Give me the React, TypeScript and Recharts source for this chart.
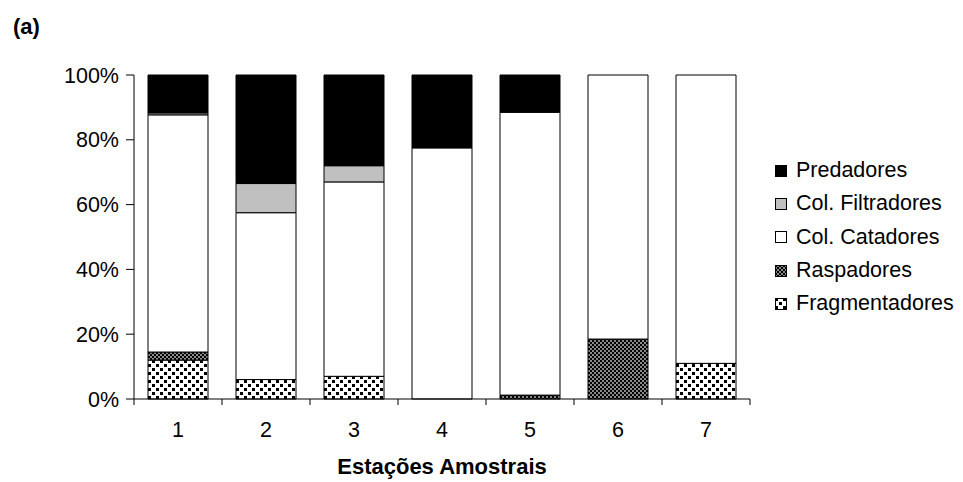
import { BarChart, Bar, XAxis, YAxis } from 'recharts';

const categories = ['1', '2', '3', '4', '5', '6', '7'];
const fragmentadores = [12, 6, 7, 0, 0, 0, 11];
const raspadores = [2.5, 0, 0, 0, 1.2, 18.5, 0];
const colCatadores = [73.2, 51.5, 60, 77.5, 87.3, 81.5, 89];
const colFiltradores = [0.6, 9, 5, 0, 0, 0, 0];
const predadores = [11.7, 33.5, 28, 22.5, 11.5, 0, 0];
const yTicks = [0, 20, 40, 60, 80, 100];

const data = categories.map((name, i) => ({
  name,
  frag: fragmentadores[i],
  rasp: raspadores[i],
  cat: colCatadores[i],
  filt: colFiltradores[i],
  pred: predadores[i],
}));

const font = '"Liberation Sans", Arial, sans-serif';
const W = 963;
const H = 482;
const margin = { top: 75, right: 213, bottom: 0, left: 0 };
const yAxisWidth = 134;
const xAxisHeight = 83;
const axisY = H - margin.bottom - xAxisHeight;
const step = (W - margin.left - margin.right - yAxisWidth) / categories.length;

const legendItems = [
  { label: 'Predadores', fill: '#000' },
  { label: 'Col. Filtradores', fill: '#c0c0c0' },
  { label: 'Col. Catadores', fill: '#fff' },
  { label: 'Raspadores', fill: 'url(#raspPattern)' },
  { label: 'Fragmentadores', fill: 'url(#fragPattern)' },
];

function CategoryTick(props: any) {
  const { x, payload, index } = props;
  return (
    <g>
      <line x1={x - step / 2} y1={axisY} x2={x - step / 2} y2={axisY + 6} stroke="#000" />
      {index === categories.length - 1 && (
        <line x1={x + step / 2} y1={axisY} x2={x + step / 2} y2={axisY + 6} stroke="#000" />
      )}
      <text x={x} y={axisY + 38} textAnchor="middle" fontSize={21.5} fontFamily={font} fill="#000">
        {payload.value}
      </text>
    </g>
  );
}

export default function App() {
  return (
    <div style={{ position: 'absolute', left: 0, top: 0, width: W, height: H, background: '#fff', fontFamily: font }}>
      <svg width={0} height={0} style={{ position: 'absolute' }}>
        <defs>
          <pattern id="fragPattern" width={8} height={8} patternUnits="userSpaceOnUse">
            <rect width={8} height={8} fill="#fff" />
            <rect x={0} y={0} width={3} height={3} fill="#000" />
            <rect x={4} y={4} width={3} height={3} fill="#000" />
          </pattern>
          <pattern id="raspPattern" width={4} height={4} patternUnits="userSpaceOnUse">
            <rect width={4} height={4} fill="#8a8a8a" />
            <rect x={0} y={0} width={2} height={2} fill="#000" />
            <rect x={2} y={2} width={2} height={2} fill="#000" />
          </pattern>
        </defs>
      </svg>
      <div style={{ position: 'absolute', left: 13, top: 14, fontSize: 22, fontWeight: 'bold' }}>(a)</div>
      <BarChart width={W} height={H} data={data} margin={margin} barCategoryGap={14}>
        <XAxis
          dataKey="name"
          height={xAxisHeight}
          axisLine={{ stroke: '#000' }}
          tickLine={false}
          tick={<CategoryTick />}
          interval={0}
          label={{
            value: 'Estações Amostrais',
            position: 'insideBottom',
            offset: 8,
            style: { fontWeight: 'bold', fontSize: 22, fill: '#000', fontFamily: font },
          }}
        />
        <YAxis
          width={yAxisWidth}
          domain={[0, 100]}
          ticks={yTicks}
          tickFormatter={(v) => `${v}%`}
          axisLine={{ stroke: '#000' }}
          tickLine={{ stroke: '#000' }}
          tickSize={8}
          tickMargin={7}
          tick={{ fontSize: 21.5, fill: '#000', fontFamily: font }}
        />
        <Bar dataKey="frag" stackId="a" fill="url(#fragPattern)" stroke="#000" isAnimationActive={false} />
        <Bar dataKey="rasp" stackId="a" fill="url(#raspPattern)" stroke="#000" isAnimationActive={false} />
        <Bar dataKey="cat" stackId="a" fill="#fff" stroke="#000" isAnimationActive={false} />
        <Bar dataKey="filt" stackId="a" fill="#c0c0c0" stroke="#000" isAnimationActive={false} />
        <Bar dataKey="pred" stackId="a" fill="#000" stroke="#000" isAnimationActive={false} />
      </BarChart>
      <div style={{ position: 'absolute', left: 775, top: 154 }}>
        {legendItems.map((it) => (
          <div key={it.label} style={{ display: 'flex', alignItems: 'center', height: 33.3, fontSize: 21.5 }}>
            <svg width={12} height={12} style={{ marginRight: 9 }}>
              <rect x={0.5} y={0.5} width={11} height={11} fill={it.fill} stroke="#000" />
            </svg>
            <span>{it.label}</span>
          </div>
        ))}
      </div>
    </div>
  );
}
